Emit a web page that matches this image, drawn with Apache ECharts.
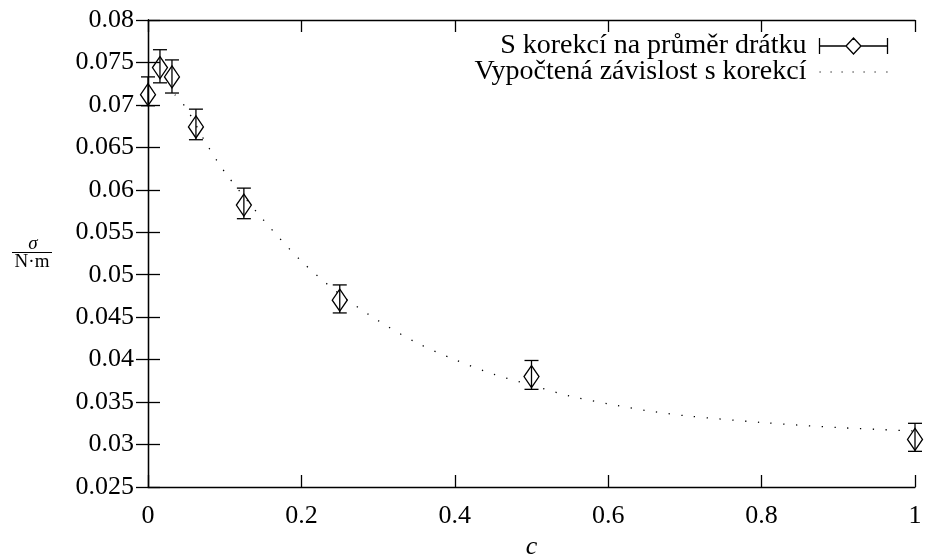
<!DOCTYPE html>
<html>
<head>
<meta charset="utf-8">
<script src="https://cdn.jsdelivr.net/npm/echarts@6/dist/echarts.min.js"></script>
<style>
  html, body { margin: 0; padding: 0; background: #fff; }
  #chart { width: 925px; height: 560px; }
</style>
</head>
<body>
<div id="chart"></div>
<script>
// measured points (c, sigma) with error bar ends
var cValues = [0, 0.0156, 0.03125, 0.0625, 0.125, 0.25, 0.5, 1];
var sigmaValues = [0.0712, 0.0744, 0.0733, 0.0674, 0.0582, 0.0470, 0.0380, 0.0306];
var errTop = [0.0733, 0.0765, 0.0753, 0.0695, 0.0602, 0.0488, 0.0399, 0.0325];
var errBottom = [0.0699, 0.0726, 0.0714, 0.0659, 0.0566, 0.0455, 0.0365, 0.0292];

// fitted curve
var fitC = [0.035, 0.05, 0.075, 0.1, 0.15, 0.2, 0.25, 0.3, 0.35, 0.4, 0.45, 0.5, 0.55, 0.6, 0.65, 0.7, 0.8, 0.9, 1.0];
var fitSigma = [0.0712, 0.0696, 0.0656, 0.0621, 0.0565, 0.0516, 0.0477, 0.0446, 0.0420, 0.0400, 0.0383, 0.0370, 0.0357, 0.0348, 0.0340, 0.0334, 0.0326, 0.0320, 0.0316];

var xTicks = [0, 0.2, 0.4, 0.6, 0.8, 1];
var yTicks = ['0.025', '0.03', '0.035', '0.04', '0.045', '0.05', '0.055', '0.06', '0.065', '0.07', '0.075', '0.08'];

var seriesPoints = 'S korekcí na průměr drátku';
var seriesFit = 'Vypočtená závislost s korekcí';

var font = 'Liberation Serif';

var pointData = cValues.map(function (c, i) {
    return [c, sigmaValues[i], errBottom[i], errTop[i]];
});
var fitData = fitC.map(function (c, i) { return [c, fitSigma[i]]; });

function renderErr(params, api) {
    var mid = api.coord([api.value(0), api.value(1)]);
    var lo = api.coord([api.value(0), api.value(2)]);
    var hi = api.coord([api.value(0), api.value(3)]);
    var cap = 7, dw = 7.5, dh = 11;
    var st = { stroke: '#000', lineWidth: 1.3, fill: null };
    return {
        type: 'group',
        children: [
            { type: 'line', shape: { x1: lo[0], y1: lo[1], x2: hi[0], y2: hi[1] }, style: st },
            { type: 'line', shape: { x1: lo[0] - cap, y1: lo[1], x2: lo[0] + cap, y2: lo[1] }, style: st },
            { type: 'line', shape: { x1: hi[0] - cap, y1: hi[1], x2: hi[0] + cap, y2: hi[1] }, style: st },
            { type: 'polygon', shape: { points: [[mid[0], mid[1] - dh], [mid[0] + dw, mid[1]], [mid[0], mid[1] + dh], [mid[0] - dw, mid[1]]] }, style: st }
        ]
    };
}

var chart = echarts.init(document.getElementById('chart'));

var hiddenAxis = {
    axisLine: { show: true, lineStyle: { color: '#000', width: 1.3 } },
    axisTick: { show: true, inside: true, length: 12, lineStyle: { color: '#000', width: 1.3 } },
    axisLabel: { show: false },
    splitLine: { show: false }
};

chart.setOption({
    backgroundColor: '#fff',
    animation: false,
    textStyle: { fontFamily: font, color: '#000' },
    grid: { left: 148, right: 10, top: 20, bottom: 73, outerBoundsMode: 'none', containLabel: false },
    legend: {
        orient: 'vertical',
        right: 35,
        top: 32,
        padding: 0,
        align: 'right',
        itemWidth: 68,
        itemHeight: 16,
        itemGap: -2,
        textStyle: { fontFamily: font, fontSize: 28, color: '#000', padding: [0, 8, 0, 0] },
        data: [
            {
                name: seriesPoints,
                icon: 'path://M0 0V16M68 0V16M0 8H26.5M41.5 8H68M34 0L41.5 8L34 16L26.5 8Z',
                itemStyle: { color: 'none', borderColor: '#000', borderWidth: 1.3 }
            },
            {
                name: seriesFit,
                icon: 'path://M0 7.4h1.2v1.2h-1.2zM11 7.4h1.2v1.2h-1.2zM22 7.4h1.2v1.2h-1.2zM33 7.4h1.2v1.2h-1.2zM44 7.4h1.2v1.2h-1.2zM55 7.4h1.2v1.2h-1.2zM66.8 7.4h1.2v1.2h-1.2zM0 0h0.01v0.01h-0.01zM68 16h-0.01v-0.01h0.01z',
                itemStyle: { color: '#000', borderWidth: 0 }
            }
        ]
    },
    xAxis: [
        {
            type: 'value', min: 0, max: 1, interval: 0.2, position: 'bottom',
            name: 'c', nameLocation: 'middle', nameGap: 45,
            nameTextStyle: { fontFamily: font, fontSize: 26, fontStyle: 'italic', color: '#000' },
            axisLine: { show: true, lineStyle: { color: '#000', width: 1.3 } },
            axisTick: { show: true, inside: true, length: 12, lineStyle: { color: '#000', width: 1.3 } },
            axisLabel: {
                fontFamily: font, fontSize: 26, color: '#000', margin: 16,
                formatter: function (v) {
                    var t = xTicks.filter(function (x) { return Math.abs(x - v) < 1e-9; });
                    return t.length ? String(t[0]) : '';
                }
            },
            splitLine: { show: false }
        },
        Object.assign({ type: 'value', min: 0, max: 1, interval: 0.2, position: 'top' }, hiddenAxis)
    ],
    yAxis: [
        {
            type: 'value', min: 0.025, max: 0.08, interval: 0.005, position: 'left',
            axisLine: { show: true, lineStyle: { color: '#000', width: 1.3 } },
            axisTick: { show: true, inside: true, length: 12, lineStyle: { color: '#000', width: 1.3 } },
            axisLabel: {
                fontFamily: font, fontSize: 26, color: '#000', margin: 14,
                formatter: function (v) {
                    var idx = Math.round((v - 0.025) / 0.005);
                    return yTicks[idx] || '';
                }
            },
            splitLine: { show: false }
        },
        Object.assign({ type: 'value', min: 0.025, max: 0.08, interval: 0.005, position: 'right' }, hiddenAxis)
    ],
    graphic: [
        { type: 'text', x: 33, y: 244, style: { text: 'σ', font: 'italic 19px "Liberation Serif"', fill: '#000', align: 'center', verticalAlign: 'middle' } },
        { type: 'line', shape: { x1: 12, y1: 252.5, x2: 52, y2: 252.5 }, style: { stroke: '#000', lineWidth: 1 } },
        { type: 'text', x: 32, y: 262, style: { text: 'N·m', font: '19px "Liberation Serif"', fill: '#000', align: 'center', verticalAlign: 'middle' } }
    ],
    series: [
        {
            name: seriesPoints,
            type: 'custom',
            renderItem: renderErr,
            data: pointData,
            encode: { x: 0, y: 1 },
            clip: false,
            z: 3
        },
        {
            name: seriesFit,
            type: 'line',
            data: fitData,
            smooth: 0.3,
            showSymbol: false,
            lineStyle: { color: '#000', width: 1.3, type: [1.3, 11.5] },
            z: 2
        }
    ]
});
</script>
</body>
</html>
